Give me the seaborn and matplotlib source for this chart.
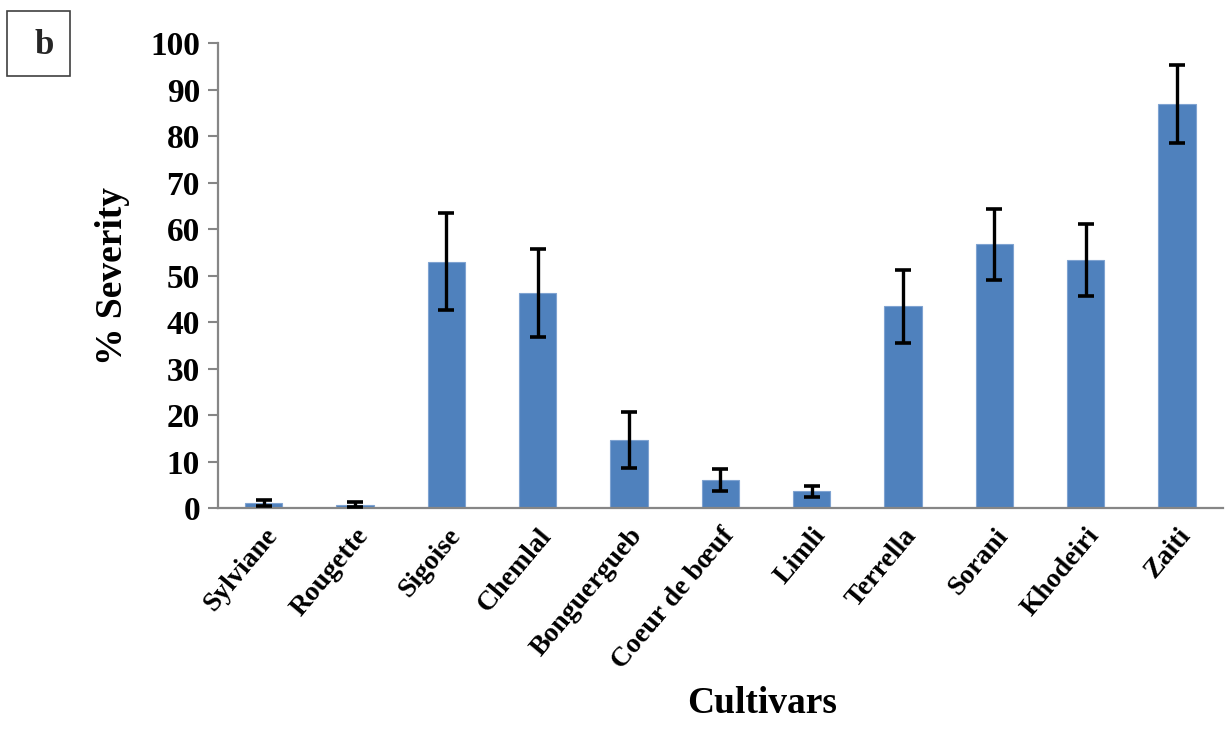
import matplotlib
matplotlib.use("Agg")
import matplotlib.pyplot as plt
from matplotlib.patches import Rectangle
import numpy as np
import pandas as pd
import seaborn as sns

cultivars = ["Sylviane", "Rougette", "Sigoise", "Chemlal", "Bonguergueb",
             "Coeur de bœuf", "Limli", "Terrella", "Sorani", "Khodeiri", "Zaiti"]
severity = [1.1, 0.7, 53.0, 46.3, 14.6, 6.0, 3.6, 43.4, 56.7, 53.4, 87.0]
errors = [0.7, 0.5, 10.5, 9.5, 6.0, 2.3, 1.2, 7.8, 7.7, 7.8, 8.4]
y_ticks = [0, 10, 20, 30, 40, 50, 60, 70, 80, 90, 100]

sns.set_style("white")
plt.rcParams["font.family"] = ["Liberation Serif", "DejaVu Serif"]
plt.rcParams["font.weight"] = "bold"

df = pd.DataFrame({"Cultivar": cultivars, "Severity": severity})

fig = plt.figure(figsize=(12.25, 7.31), dpi=100)
ax = fig.add_axes([0.178, 0.305, 0.820, 0.636])

sns.barplot(data=df, x="Cultivar", y="Severity", color="#4F81BD", saturation=1,
            width=0.41, errorbar=None, ax=ax, edgecolor="#7FA3D1", linewidth=0.8)
ax.errorbar(x=np.arange(len(cultivars)), y=severity, yerr=errors, fmt="none",
            ecolor="black", elinewidth=2.4, capsize=5.8, capthick=2.6, zorder=5)

ax.set_ylim(0, 100)
ax.set_xlim(-0.5, len(cultivars) - 0.5)
ax.set_yticks(y_ticks)
ax.set_yticklabels([str(v) for v in y_ticks], fontsize=24, fontweight="bold",
                   color="black")
ax.set_xticks(np.arange(len(cultivars)))
ax.set_xticklabels(cultivars, fontsize=20, fontweight="bold", rotation=50,
                   ha="right", rotation_mode="anchor", color="black")
ax.set_xticks(np.arange(-0.5, len(cultivars)), minor=True)
ax.tick_params(axis="x", which="major", length=0, pad=11)
ax.tick_params(axis="x", which="minor", length=8, width=1.5, color="#868686", direction="out")
ax.tick_params(axis="y", which="major", length=7, width=1.5, color="#868686",
               direction="out", pad=6, left=True)

for s in ["top", "right"]:
    ax.spines[s].set_visible(False)
for s in ["left", "bottom"]:
    ax.spines[s].set_color("#868686")
    ax.spines[s].set_linewidth(1.6)

ax.set_xlabel("Cultivars", fontsize=27, fontweight="bold", color="black")
ax.set_ylabel("% Severity", fontsize=27, fontweight="bold", color="black")
ax.xaxis.set_label_coords(0.542, -0.383)
ax.yaxis.set_label_coords(-0.088, 0.50)

fig.patches.append(Rectangle((7 / 1225, 1 - 76 / 731), 63 / 1225, 65 / 731,
                             transform=fig.transFigure, fill=False,
                             edgecolor="#404040", linewidth=1.2))
fig.text(44 / 1225, 1 - 46 / 731, "b", fontsize=25, fontweight="bold",
         ha="center", va="center")

fig.savefig("out.png", dpi=100)
